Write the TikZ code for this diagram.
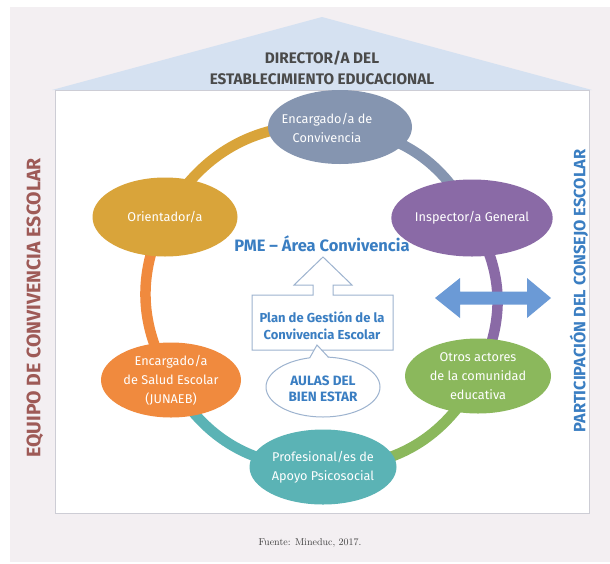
\documentclass[tikz,border=0pt]{standalone}
\usepackage{fontspec}
\newfontfamily\fira{Fira Sans}
\usetikzlibrary{shapes.geometric}
\pgfdeclarelayer{bg}
\pgfdeclarelayer{conn}
\pgfsetlayers{bg,conn,main}
\definecolor{bgc}{HTML}{F3EFF2}
\definecolor{roofc}{HTML}{D5E1F1}
\definecolor{boxc}{HTML}{CDCDD5}
\definecolor{goldc}{HTML}{D9A43A}
\definecolor{slatec}{HTML}{8595B0}
\definecolor{purplec}{HTML}{8A6AA6}
\definecolor{greenc}{HTML}{8BB85C}
\definecolor{tealc}{HTML}{5BB3B5}
\definecolor{orangec}{HTML}{F08A3E}
\definecolor{bluetxt}{HTML}{3A7EC2}
\definecolor{arrowc}{HTML}{6B9AD6}
\definecolor{outlinec}{HTML}{9DB3CF}
\definecolor{titlec}{HTML}{4A4A4A}
\definecolor{leftc}{HTML}{9E5A57}
\begin{document}
\begin{tikzpicture}[x=1pt,y=1pt,
  ell/.style={ellipse, inner sep=0pt, align=center, text=white,
    font=\fira\fontsize{12.7}{19}\selectfont},
  conn/.style={line width=10.5pt},
  bluebold/.style={text=bluetxt, align=center, font=\fira\bfseries\fontsize{13}{17}\selectfont},
  outl/.style={draw=outlinec, line width=1pt, line join=miter}]
\useasboundingbox (0,0) rectangle (610,-563);
\begin{pgfonlayer}{bg}
\fill[bgc] (10,-7) rectangle (610,-562);
\fill[roofc] (52,-90) -- (322,-17) -- (592,-90) -- cycle;
\filldraw[fill=white, draw=boxc, line width=1pt] (55,-90) rectangle (589,-513);
\end{pgfonlayer}

% title and side texts
\node[align=center, text=titlec, font=\fira\bfseries\fontsize{15.3}{21}\selectfont] (dir) at (322,-67.5) {DIRECTOR/A DEL\\ESTABLECIMIENTO EDUCACIONAL};
\node[rotate=90, text=leftc, font=\fira\bfseries\fontsize{19.5}{22}\selectfont] (equipo) at (35,-308) {EQUIPO DE CONVIVENCIA ESCOLAR};
\node[rotate=90, text=bluetxt, font=\fira\bfseries\fontsize{16.4}{18}\selectfont] (consejo) at (579,-291) {PARTICIPACIÓN DEL CONSEJO ESCOLAR};

% ellipses
\node[ell, fill=slatec, minimum width=144pt, minimum height=74pt] (conv) at (340,-127) {};
\node[ell] (convtxt) at (327,-128) {Encargado/a de\\Convivencia};
\node[ell, fill=purplec, minimum width=145pt, minimum height=77pt] (insp) at (472,-218) {Inspector/a General};
\node[ell, fill=greenc, minimum width=146pt, minimum height=75pt] (otros) at (478,-376) {Otros actores\\de la comunidad\\educativa};
\node[ell, fill=tealc, minimum width=147pt, minimum height=75pt] (prof) at (323,-467) {Profesional/es de\\Apoyo Psicosocial};
\node[ell, fill=orangec, minimum width=140pt, minimum height=75pt] (salud) at (171,-380) {Encargado/a\\de Salud Escolar\\(JUNAEB)};
\node[ell, fill=goldc, minimum width=145pt, minimum height=79pt] (orient) at (165,-217) {Orientador/a};

% connectors
\begin{pgfonlayer}{conn}
\draw[conn, goldc] (orient.center) to[bend left=34] (conv.center);
\draw[conn, slatec] (conv.center) to[bend left=28] (insp.center);
\draw[conn, purplec] (insp.center) to[bend left=29] (otros.center);
\draw[conn, greenc] (otros.center) to[bend left=32] (prof.center);
\draw[conn, tealc] (prof.center) to[bend left=31] (salud.center);
\draw[conn, orangec] (salud.center) to[bend left=28] (orient.center);
\end{pgfonlayer}

% double arrow
\fill[arrowc] (435,-298) -- (460,-278) -- (460,-291.5) -- (527,-291.5) -- (527,-278)
  -- (551,-298) -- (527,-318) -- (527,-304.5) -- (460,-304.5) -- (460,-318) -- cycle;

% centre block
\node[text=bluetxt, font=\fira\bfseries\fontsize{16.5}{18}\selectfont] (pme) at (322,-244) {PME – Área Convivencia};
\draw[outl] (252,-350) -- (252,-295) -- (313,-295) -- (313,-285) -- (294,-285)
  -- (323,-257) -- (352,-285) -- (333,-285) -- (333,-295) -- (393,-295)
  -- (393,-350) -- cycle;
\node[bluebold] (plan) at (322,-326) {Plan de Gestión de la\\Convivencia Escolar};
\node[ellipse, outl, fill=white, minimum width=114pt, minimum height=60pt, inner sep=0pt] (aulas) at (323,-387) {};
\fill[white] (309,-359) -- (317,-345) -- (329,-359) -- cycle;
\draw[outlinec, line width=1pt] (309.5,-358.2) -- (317,-345) -- (328.5,-357.3);
\node[bluebold, font=\fira\bfseries\fontsize{13.5}{16}\selectfont] (aulastxt) at (323,-389) {AULAS DEL\\BIEN ESTAR};

% source
\node[font=\fontsize{10}{12}\selectfont, text=black!75] (fuente) at (310,-543) {Fuente: Mineduc, 2017.};
\end{tikzpicture}
\end{document}
